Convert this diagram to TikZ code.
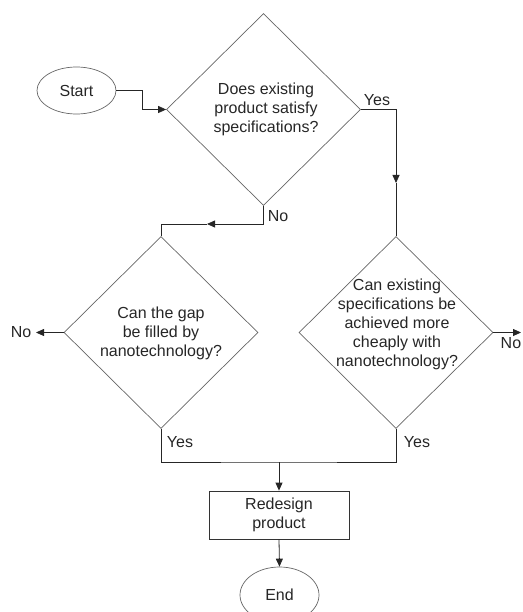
\documentclass[tikz,border=0pt]{standalone}
\usepackage{fontspec}
\setmainfont{Liberation Sans}
\usetikzlibrary{shapes.geometric,arrows.meta}
\begin{document}
\begin{tikzpicture}[x=1pt,y=-1pt,
 txt/.style={font=\fontsize{16}{19}\selectfont, text=black!85, align=center, inner sep=0pt},
 dia/.style={draw=black!60, diamond, inner sep=0pt, minimum width=194pt, minimum height=192pt, line width=0.7pt},
 term/.style={txt, draw=black!60, ellipse, inner sep=0pt, minimum width=79pt, minimum height=47pt, line width=0.7pt},
 proc/.style={txt, draw=black!80, rectangle, minimum width=140pt, minimum height=48pt, line width=0.8pt},
 con/.style={line width=0.8pt, draw=black!85},
 arr/.style={con, -{Triangle[length=8pt,width=7pt]}}]
\useasboundingbox (0,0) rectangle (522,612);
% nodes
\node[term] (start) at (76.5,90.5) {Start};
\node[dia] (d1) at (263.5,109.5) {};
\node[txt] (t1) at (266,109) {Does existing\\product satisfy\\specifications?};
\node[dia] (d2) at (161,332.5) {};
\node[txt] (t2) at (161,333) {Can the gap\\be filled by\\nanotechnology?};
\node[dia] (d3) at (396,332.5) {};
\node[txt] (t3) at (397,324) {Can existing\\specifications be\\achieved more\\cheaply with\\nanotechnology?};
\node[proc] (box) at (279,515) {Redesign\\product};
\node[term, minimum height=56pt] (end) at (279.5,595) {End};
% labels
\node[txt] (lyes1) at (377,100) {Yes};
\node[txt] (lno1) at (278,216) {No};
\node[txt] (lno2) at (21,332) {No};
\node[txt, anchor=west] (lno3) at (500.5,343) {No};
\node[txt] (lyes2) at (180,442) {Yes};
\node[txt] (lyes3) at (417,442) {Yes};
% coordinates
\coordinate (s1) at (142,90.5);
\coordinate (y1) at (396,183);
\coordinate (n1) at (263.5,224);
\coordinate (n2) at (207,224);
\coordinate (nl) at (36,332.5);
\coordinate (nr) at (521,332.5);
\coordinate (m0) at (279,462);
% connectors
\draw[arr] (start.east) -- (s1) |- (d1.west);
\draw[arr] (d1.east) -| (y1);
\draw[con] (y1) -- (d3.north);
\draw[arr] (d1.south) -- (n1) -- (n2);
\draw[con] (n2) -| (d2.north);
\draw[arr] (d2.west) -- (nl);
\draw[arr] (d3.east) -- (nr);
\draw[con] (d2.south) |- (m0) -| (d3.south);
\draw[arr] (m0) -- (box.north);
\draw[arr] (box.south) -- (end.north);
\end{tikzpicture}
\end{document}
